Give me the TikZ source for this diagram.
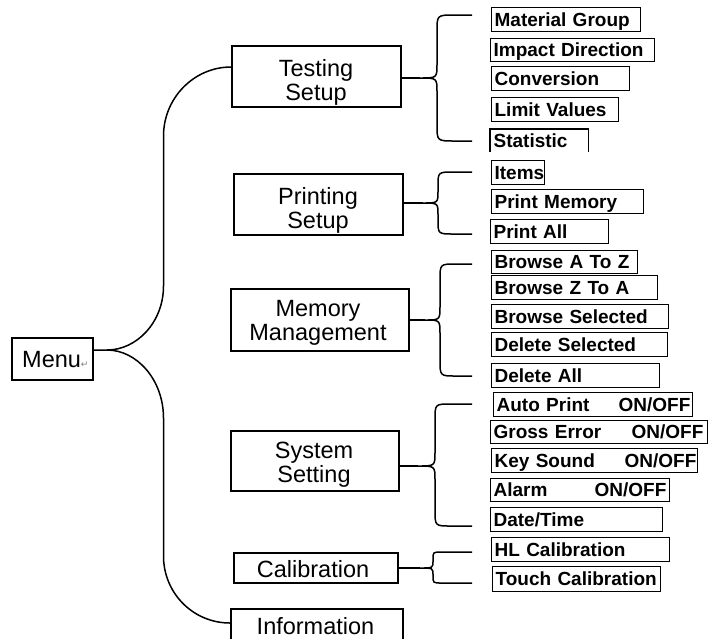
\documentclass[tikz,border=0pt]{standalone}
\usepackage{fontspec}
\setmainfont{Liberation Sans}
\newfontfamily\symfont{DejaVu Sans}
\begin{document}
\begin{tikzpicture}[x=1pt,y=-1pt,
  mainbox/.style={draw, line width=1.5pt, inner sep=0pt, anchor=north west},
  mainlabel/.style={font=\fontsize{23.5}{24}\selectfont, align=center, inner sep=0pt},
  itembox/.style={draw, line width=1.2pt, anchor=north west, inner xsep=3pt, inner ysep=0pt,
    align=left, font=\fontsize{19}{21}\selectfont\bfseries, text height=13.6pt, text depth=0pt},
  itemline/.style={line width=1.2pt},
  conn/.style={line width=1.5pt}]
\useasboundingbox (0,0) rectangle (708,638);
\clip (0,0) rectangle (708,638);

% main boxes
\node[mainbox, minimum width=81pt, minimum height=42pt] (menu) at (11,337) {};
\node[mainbox, minimum width=169pt, minimum height=61pt] (ts) at (231,45) {};
\node[mainbox, minimum width=169pt, minimum height=61pt] (ps) at (233,173) {};
\node[mainbox, minimum width=178pt, minimum height=62pt] (mm) at (230,288) {};
\node[mainbox, minimum width=168pt, minimum height=60pt] (ss) at (230,430) {};
\node[mainbox, minimum width=164pt, minimum height=30pt] (cal) at (233,552) {};
\node[mainbox, minimum width=172pt, minimum height=40pt] (inf) at (230,608) {};

% main labels
\node[mainlabel, anchor=base west] (menuT) at (22,367) {Menu{\symfont\fontsize{9}{9}\selectfont\color{gray}↵}};
\node[mainlabel] (tsT) at (316,82.9) {Testing\\Setup};
\node[mainlabel] (psT) at (318,210.9) {Printing\\Setup};
\node[mainlabel] (mmT) at (318,322.9) {Memory\\Management};
\node[mainlabel] (ssT) at (314,465) {System\\Setting};
\node[mainlabel, anchor=base] (calT) at (313,577) {Calibration};
\node[mainlabel, anchor=base] (infT) at (315.5,634) {Information};

% item boxes
\node[itembox, minimum height=24pt, text width=143pt] (i1) at (491,7) {Material Group};
\node[itembox, minimum height=23pt, text width=158pt] (i2) at (490,38) {Impact Direction};
\node[itembox, minimum height=24pt, text width=132pt] (i3) at (491,66) {Conversion};
\node[itembox, minimum height=24pt, text width=121pt] (i4) at (491,97) {Limit Values};
\node[itembox, draw=none, minimum height=22pt, text width=91pt] (i5) at (490,129) {Statistic};
\draw[itemline] (i5.south west) |- (i5.north east) -- (i5.south east);
\node[itembox, minimum height=24pt, text width=47pt] (i6) at (491,160) {Items};
\node[itembox, minimum height=24pt, text width=146pt] (i7) at (491,189) {Print Memory};
\node[itembox, minimum height=24pt, text width=112pt] (i8) at (490,219) {Print All};
\node[itembox, minimum height=23pt, text width=140pt] (i9) at (491,250) {Browse A To Z};
\node[itembox, minimum height=24pt, text width=160pt] (i10) at (491,275) {Browse Z To A};
\node[itembox, minimum height=24pt, text width=171pt] (i11) at (491,304) {Browse Selected};
\node[itembox, minimum height=24pt, text width=170pt] (i12) at (491,332) {Delete Selected};
\node[itembox, minimum height=24pt, text width=162pt] (i13) at (491,363) {Delete All};
\node[itembox, minimum height=24pt, text width=193pt] (i14) at (493,392) {\makebox[122pt][l]{Auto Print}ON/OFF};
\node[itembox, minimum height=23pt, text width=211pt] (i15) at (490,420) {\makebox[138pt][l]{Gross Error}ON/OFF};
\node[itembox, minimum height=24pt, text width=200pt] (i16) at (491,448) {\makebox[130pt][l]{Key Sound}ON/OFF};
\node[itembox, minimum height=23pt, text width=173pt] (i17) at (490,478) {\makebox[101pt][l]{Alarm}ON/OFF};
\node[itembox, minimum height=24pt, text width=166pt] (i18) at (490,507) {Date/Time};
\node[itembox, minimum height=24pt, text width=172pt] (i19) at (491,537) {HL Calibration};
\node[itembox, minimum height=25pt, text width=162pt] (i20) at (492,566) {Touch Calibration};

% main brace
\coordinate (mtip) at (107,350);
\draw[conn] (menu.east |- mtip) -- (mtip)
  .. controls (137,350) and (163.5,322) .. (163.5,286)
  -- (163.5,136)
  .. controls (163.5,98) and (194,67) .. (ts.west |- 0,67);
\draw[conn] (mtip)
  .. controls (137,350) and (163.5,380) .. (163.5,418)
  -- (163.5,556)
  .. controls (163.5,593) and (193,623) .. (inf.west |- 0,623);

% sub braces: testing
\coordinate (tT) at (420,78);
\coordinate (tA) at (472,15);
\coordinate (tB) at (472,141);
\draw[conn] (ts.east |- tT) -- (tT);
\draw[conn] (tA) -- (455,15) .. controls (437,15) .. (437,31) -- (437,64) .. controls (437,78) .. (tT)
  .. controls (437,78) .. (437,92) -- (437,125) .. controls (437,141) .. (455,141) -- (tB);

% printing
\coordinate (pT) at (423,203);
\coordinate (pA) at (472,172);
\coordinate (pB) at (472,234);
\draw[conn] (ps.east |- pT) -- (pT);
\draw[conn] (pA) -- (454,172) .. controls (438,172) .. (438,186) -- (438,191) .. controls (438,203) .. (pT)
  .. controls (438,203) .. (438,215) -- (438,220) .. controls (438,234) .. (454,234) -- (pB);

% memory
\coordinate (mT) at (425,320);
\coordinate (mA) at (472,264);
\coordinate (mB) at (472,376);
\draw[conn] (mm.east |- mT) -- (mT);
\draw[conn] (mA) -- (456,264) .. controls (440,264) .. (440,280) -- (440,306) .. controls (440,320) .. (mT)
  .. controls (440,320) .. (440,334) -- (440,360) .. controls (440,376) .. (456,376) -- (mB);

% system
\coordinate (sT) at (418,466);
\coordinate (sA) at (472,404);
\coordinate (sB) at (472,526);
\draw[conn] (ss.east |- sT) -- (sT);
\draw[conn] (sA) -- (451,404) .. controls (435,404) .. (435,420) -- (435,452) .. controls (435,466) .. (sT)
  .. controls (435,466) .. (435,480) -- (435,510) .. controls (435,526) .. (451,526) -- (sB);

% calibration
\coordinate (cT) at (420,568);
\coordinate (cA) at (472,552);
\coordinate (cB) at (472,583);
\draw[conn] (cal.east |- cT) -- (cT);
\draw[conn] (cA) -- (442,552) .. controls (433,552) .. (433,559) -- (433,561) .. controls (433,568) .. (cT)
  .. controls (433,568) .. (433,575) -- (433,576) .. controls (433,583) .. (442,583) -- (cB);
\end{tikzpicture}
\end{document}
